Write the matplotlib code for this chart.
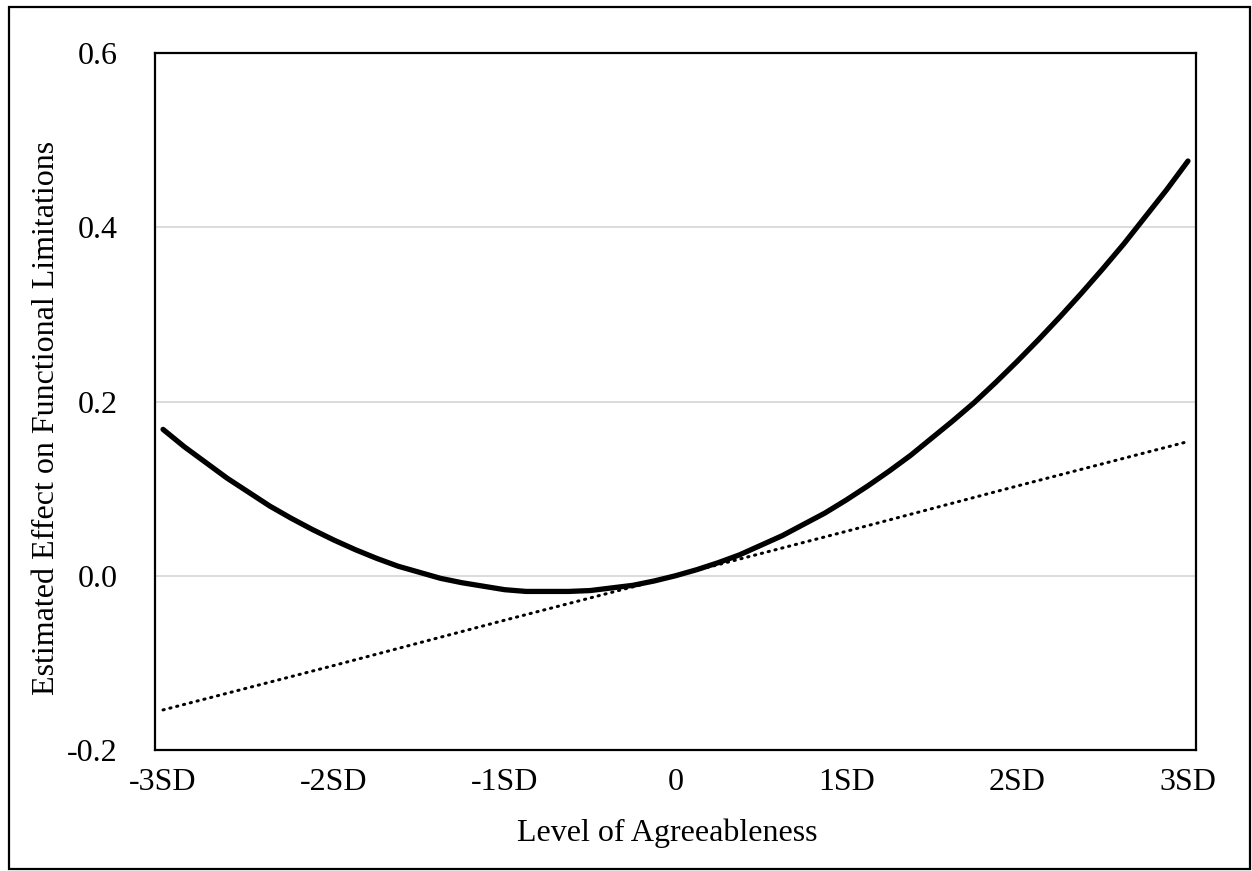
import matplotlib
matplotlib.use("Agg")
import matplotlib.pyplot as plt
from matplotlib.patches import Rectangle

# level of agreeableness (in SD units) and estimated effect
sd_levels = [-3, -2.875, -2.75, -2.625, -2.5, -2.375, -2.25, -2.125, -2, -1.875,
             -1.75, -1.625, -1.5, -1.375, -1.25, -1.125, -1, -0.875, -0.75, -0.625,
             -0.5, -0.375, -0.25, -0.125, 0, 0.125, 0.25, 0.375, 0.5, 0.625,
             0.75, 0.875, 1, 1.125, 1.25, 1.375, 1.5, 1.625, 1.75, 1.875,
             2, 2.125, 2.25, 2.375, 2.5, 2.625, 2.75, 2.875, 3]
curve_effect = [0.168, 0.148, 0.130, 0.112, 0.096, 0.080, 0.066, 0.053, 0.041, 0.030,
                0.020, 0.011, 0.004, -0.003, -0.008, -0.012, -0.016, -0.018, -0.018, -0.018,
                -0.017, -0.014, -0.011, -0.006, 0.000, 0.007, 0.015, 0.024, 0.035, 0.046,
                0.059, 0.072, 0.087, 0.103, 0.120, 0.138, 0.158, 0.178, 0.199, 0.222,
                0.246, 0.271, 0.297, 0.324, 0.352, 0.381, 0.412, 0.443, 0.476]
linear_levels = [-3, -2, -1, 0, 1, 2, 3]
linear_effect = [-0.154, -0.103, -0.051, 0.000, 0.051, 0.103, 0.154]
tick_labels = ["-3SD", "-2SD", "-1SD", "0", "1SD", "2SD", "3SD"]
y_ticks = [-0.2, 0.0, 0.2, 0.4, 0.6]

plt.rcParams["font.family"] = ["Liberation Serif", "DejaVu Serif"]
W, H = 1252, 871
fs = 23
fig = plt.figure(figsize=(W / 100, H / 100), dpi=100)
ax = fig.add_axes([155 / W, 1 - 750 / H, (1196 - 155) / W, (750 - 53) / H])

ax.plot(sd_levels, curve_effect, color="black", linewidth=3.8,
        solid_capstyle="round", solid_joinstyle="round", zorder=3)
ax.plot(linear_levels, linear_effect, color="black", linewidth=2.2,
        linestyle=(0, (0.4, 1.9)), dash_capstyle="round", zorder=3)

ax.set_xlim(-3.047, 3.047)
ax.set_ylim(-0.2, 0.6)
ax.set_xticks(linear_levels)
ax.set_xticklabels(tick_labels)
ax.set_yticks(y_ticks)
ax.set_yticklabels([f"{v:.1f}" for v in y_ticks])
ax.tick_params(axis="both", length=0, labelsize=fs)
ax.tick_params(axis="y", pad=27)
ax.tick_params(axis="x", pad=13)
for t in (0.0, 0.2, 0.4):
    ax.axhline(t, color="#d9d9d9", linewidth=1.3, zorder=1)
for s in ax.spines.values():
    s.set_linewidth(1.6)
    s.set_color("black")

fig.text(47 / W, 1 - 418 / H, "Estimated Effect on Functional Limitations",
         rotation=90, ha="center", va="center", fontsize=fs)
fig.text(667 / W, 1 - 833 / H, "Level of Agreeableness",
         ha="center", va="center", fontsize=fs)

fig.patches.append(Rectangle((9 / W, 1 - 869 / H), (1250 - 9) / W, (869 - 7) / H,
                             transform=fig.transFigure, fill=False,
                             edgecolor="black", linewidth=1.6))

fig.savefig("out.png", dpi=100)
